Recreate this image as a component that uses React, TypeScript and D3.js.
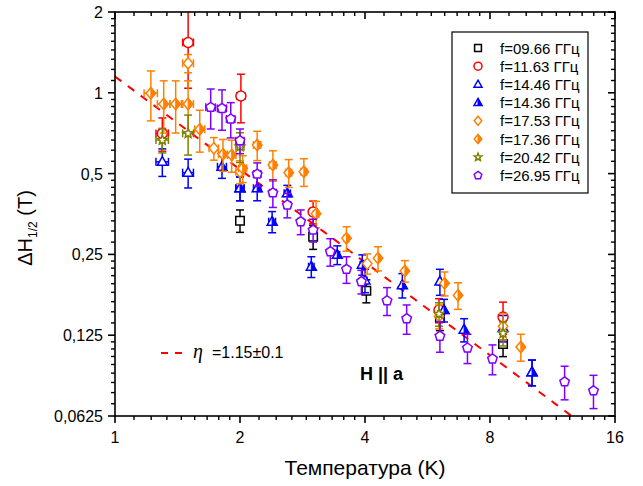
import React from 'react';
import * as d3 from 'd3';

// Linewidth ΔH1/2 versus temperature, log2–log2 axes
const W = 643;
const H = 486;
const plotL = 115, plotR = 615, plotT = 12, plotB = 416;

const xTicks = [1, 2, 4, 8, 16];
const xTickLabels = ['1', '2', '4', '8', '16'];
const yTicks = [0.0625, 0.125, 0.25, 0.5, 1, 2];
const yTickLabels = ['0,0625', '0,125', '0,25', '0,5', '1', '2'];

// [T (K), ΔH (T), error (T)]
type Pt = [number, number, number];

const f0966: Pt[] = [
  [2.0, 0.334, 0.032], [3.0, 0.291, 0.03], [4.03, 0.183, 0.018],
  [6.06, 0.145, 0.015], [8.6, 0.116, 0.012],
];
const f1163: Pt[] = [
  [1.3, 0.706, 0.1], [1.5, 1.54, 0.5], [2.01, 0.973, 0.2],
  [3.0, 0.36, 0.035], [6.03, 0.155, 0.016], [8.6, 0.146, 0.02],
];
const f1446: Pt[] = [
  [1.3, 0.553, 0.065], [1.5, 0.504, 0.062], [2.0, 0.441, 0.045],
  [4.0, 0.2, 0.02], [6.06, 0.198, 0.022], [8.6, 0.133, 0.015], [10.1, 0.091, 0.01],
];
const f1436: Pt[] = [
  [1.81, 0.53, 0.05], [2.0, 0.441, 0.045], [2.2, 0.441, 0.045], [2.39, 0.331, 0.03],
  [2.6, 0.422, 0.03], [2.97, 0.225, 0.02], [3.43, 0.249, 0.02], [3.94, 0.229, 0.02],
  [4.92, 0.192, 0.02], [6.2, 0.155, 0.015], [6.93, 0.131, 0.013], [10.1, 0.091, 0.01],
];
const f1753: Pt[] = [
  [1.5, 1.288, 0.1], [1.73, 0.621, 0.06], [2.0, 0.508, 0.05],
  [4.05, 0.231, 0.02], [6.03, 0.147, 0.015], [8.6, 0.135, 0.015],
];
const f1736: Pt[] = [
  [1.22, 0.996, 0.21], [1.31, 0.908, 0.2], [1.4, 0.908, 0.2], [1.5, 0.908, 0.2],
  [1.6, 0.731, 0.13], [1.82, 0.59, 0.08], [1.91, 0.586, 0.08], [2.03, 0.523, 0.06],
  [2.2, 0.639, 0.08], [2.4, 0.538, 0.07], [2.62, 0.504, 0.06], [2.85, 0.508, 0.06],
  [3.05, 0.354, 0.04], [3.61, 0.287, 0.03], [4.3, 0.242, 0.025], [4.99, 0.217, 0.02],
  [6.22, 0.195, 0.02], [6.7, 0.176, 0.02], [9.49, 0.113, 0.013],
];
const f2042: Pt[] = [
  [1.3, 0.667, 0.07], [1.5, 0.706, 0.12], [2.0, 0.63, 0.08],
  [6.03, 0.15, 0.015], [8.6, 0.127, 0.013],
];
const f2695: Pt[] = [
  [1.7, 0.883, 0.15], [1.81, 0.875, 0.15], [1.9, 0.799, 0.12], [2.0, 0.663, 0.07],
  [2.2, 0.498, 0.05], [2.4, 0.424, 0.05], [2.6, 0.382, 0.04], [2.8, 0.331, 0.035],
  [3.0, 0.308, 0.03], [3.3, 0.256, 0.03], [3.61, 0.22, 0.025], [3.92, 0.198, 0.02],
  [4.52, 0.168, 0.02], [5.04, 0.144, 0.018], [6.06, 0.124, 0.016], [7.06, 0.112, 0.014],
  [8.11, 0.102, 0.013], [12.1, 0.0838, 0.012], [14.2, 0.0776, 0.011],
];

const tempErr = 0.045; // K, horizontal error

// power-law guide: ΔH = A·T^(−η)
const fitA = 1.15;
const fitEta = 1.15;

type Shape = 'square' | 'circle' | 'triangle' | 'diamond' | 'star' | 'pentagon';
interface Series { label: string; color: string; shape: Shape; half: boolean; data: Pt[] }

const series: Series[] = [
  { label: 'f=09.66 ГГц', color: '#000000', shape: 'square', half: false, data: f0966 },
  { label: 'f=11.63 ГГц', color: '#ff0000', shape: 'circle', half: false, data: f1163 },
  { label: 'f=14.46 ГГц', color: '#0000ff', shape: 'triangle', half: false, data: f1446 },
  { label: 'f=14.36 ГГц', color: '#0000ff', shape: 'triangle', half: true, data: f1436 },
  { label: 'f=17.53 ГГц', color: '#ff8000', shape: 'diamond', half: false, data: f1753 },
  { label: 'f=17.36 ГГц', color: '#ff8000', shape: 'diamond', half: true, data: f1736 },
  { label: 'f=20.42 ГГц', color: '#808000', shape: 'star', half: false, data: f2042 },
  { label: 'f=26.95 ГГц', color: '#8000ff', shape: 'pentagon', half: false, data: f2695 },
];

const x = d3.scaleLog().base(2).domain([1, 16]).range([plotL, plotR]);
const y = d3.scaleLog().base(2).domain([0.0625, 2]).range([plotB, plotT]);

const minorX: number[] = [];
for (let i = 0; i < xTicks.length - 1; i++)
  for (let k = 1; k <= 8; k++) minorX.push(xTicks[i] * (1 + k / 9));
const minorY: number[] = [];
for (let i = 0; i < yTicks.length - 1; i++)
  for (let k = 1; k <= 8; k++) minorY.push(yTicks[i] * (1 + k / 9));

const poly = (pts: [number, number][]) => 'M' + pts.map(p => p.join(',')).join('L') + 'Z';

function shapePath(shape: Shape, r: number): string {
  switch (shape) {
    case 'square': {
      const s = r * 0.85;
      return poly([[-s, -s], [s, -s], [s, s], [-s, s]]);
    }
    case 'circle':
      return `M${r},0A${r},${r} 0 1,1 ${-r},0A${r},${r} 0 1,1 ${r},0Z`;
    case 'triangle':
      return poly([[0, -r * 1.05], [r, r * 0.7], [-r, r * 0.7]]);
    case 'diamond':
      return poly([[0, -r * 1.15], [r * 0.95, 0], [0, r * 1.15], [-r * 0.95, 0]]);
    case 'star': {
      const pts: [number, number][] = [];
      for (let i = 0; i < 10; i++) {
        const a = -Math.PI / 2 + (i * Math.PI) / 5;
        const rr = i % 2 === 0 ? r : r * 0.45;
        pts.push([rr * Math.cos(a), rr * Math.sin(a)]);
      }
      return poly(pts);
    }
    case 'pentagon': {
      const pts: [number, number][] = [];
      for (let i = 0; i < 5; i++) {
        const a = -Math.PI / 2 + (i * 2 * Math.PI) / 5;
        pts.push([r * Math.cos(a), r * Math.sin(a)]);
      }
      return poly(pts);
    }
  }
}

function halfPath(shape: Shape, r: number): string {
  if (shape === 'triangle') return poly([[0, -r * 1.05], [r, r * 0.7], [0, r * 0.7]]);
  return poly([[0, -r * 1.15], [r * 0.95, 0], [0, r * 1.15]]);
}

const Marker: React.FC<{ s: Series; cx: number; cy: number; r: number }> = ({ s, cx, cy, r }) => (
  <g transform={`translate(${cx},${cy})`}>
    <path d={shapePath(s.shape, r)} fill="#ffffff" stroke={s.color} strokeWidth={1.5} />
    {s.half && <path d={halfPath(s.shape, r)} fill={s.color} stroke={s.color} strokeWidth={1} />}
  </g>
);

const font = "'Liberation Sans', Arial, sans-serif";

export default function App() {
  const cap = 4;
  const fitPts = d3.range(0, 121).map(i => {
    const t = Math.pow(2, (i / 120) * 4);
    return [x(t), y(fitA * Math.pow(t, -fitEta))] as [number, number];
  });
  const line = d3.line()(fitPts) || '';

  return (
    <svg width={W} height={H} style={{ position: 'absolute', left: 0, top: 0, background: '#fff' }}
      fontFamily={font}>
      <defs>
        <clipPath id="plotArea">
          <rect x={plotL} y={plotT} width={plotR - plotL} height={plotB - plotT} />
        </clipPath>
      </defs>
      <rect x={0} y={0} width={W} height={H} fill="#fff" />

      {/* data */}
      <g clipPath="url(#plotArea)">
        <path d={line} fill="none" stroke="#ff0000" strokeWidth={2} strokeDasharray="8,8" />
        {series.map((s, si) => (
          <g key={si}>
            {s.data.map(([t, v, e], i) => {
              const cx = x(t), cy = y(v);
              const yHi = y(v + e), yLo = y(Math.max(v - e, 0.01));
              const xL = x(Math.max(t - tempErr, 0.5)), xR = x(t + tempErr);
              return (
                <g key={i} stroke={s.color} strokeWidth={1.5} fill="none">
                  <line x1={cx} x2={cx} y1={yHi} y2={yLo} />
                  <line x1={cx - cap} x2={cx + cap} y1={yHi} y2={yHi} />
                  <line x1={cx - cap} x2={cx + cap} y1={yLo} y2={yLo} />
                  <line x1={xL} x2={xR} y1={cy} y2={cy} />
                  <line x1={xL} x2={xL} y1={cy - cap} y2={cy + cap} />
                  <line x1={xR} x2={xR} y1={cy - cap} y2={cy + cap} />
                </g>
              );
            })}
            {s.data.map(([t, v], i) => (
              <Marker key={'m' + i} s={s} cx={x(t)} cy={y(v)} r={5} />
            ))}
          </g>
        ))}
      </g>

      {/* axes frame */}
      <rect x={plotL} y={plotT} width={plotR - plotL} height={plotB - plotT} fill="none" stroke="#000" strokeWidth={1.6} />

      {/* bottom (outward) and top (inward) ticks */}
      {xTicks.map((t, i) => (
        <g key={'xt' + i} stroke="#000" strokeWidth={1.6}>
          <line x1={x(t)} x2={x(t)} y1={plotB} y2={plotB + 7} />
          <line x1={x(t)} x2={x(t)} y1={plotT} y2={plotT + 7} />
        </g>
      ))}
      {minorX.map((t, i) => (
        <g key={'xm' + i} stroke="#000" strokeWidth={1.4}>
          <line x1={x(t)} x2={x(t)} y1={plotB} y2={plotB + 4} />
          <line x1={x(t)} x2={x(t)} y1={plotT} y2={plotT + 4} />
        </g>
      ))}
      {/* left (outward) and right (inward) ticks */}
      {yTicks.map((v, i) => (
        <g key={'yt' + i} stroke="#000" strokeWidth={1.6}>
          <line x1={plotL - 7} x2={plotL} y1={y(v)} y2={y(v)} />
          <line x1={plotR - 7} x2={plotR} y1={y(v)} y2={y(v)} />
        </g>
      ))}
      {minorY.map((v, i) => (
        <g key={'ym' + i} stroke="#000" strokeWidth={1.4}>
          <line x1={plotL - 4} x2={plotL} y1={y(v)} y2={y(v)} />
          <line x1={plotR - 4} x2={plotR} y1={y(v)} y2={y(v)} />
        </g>
      ))}

      {xTicks.map((t, i) => (
        <text key={'xl' + i} x={x(t)} y={443} fontSize={16} textAnchor="middle" fill="#000">{xTickLabels[i]}</text>
      ))}
      {yTicks.map((v, i) => (
        <text key={'yl' + i} x={103} y={y(v) + 6} fontSize={16} textAnchor="end" fill="#000">{yTickLabels[i]}</text>
      ))}

      <text x={365} y={475} fontSize={21} textAnchor="middle" fill="#000">Температура (K)</text>
      <text transform="translate(32,228) rotate(-90)" fontSize={20} textAnchor="middle" fill="#000">
        ΔH<tspan fontSize={12} dy={5}>1/2</tspan><tspan dy={-5}> (T)</tspan>
      </text>

      {/* legend */}
      <rect x={452} y={32} width={136} height={161} fill="#fff" stroke="#000" strokeWidth={1.2} />
      {series.map((s, i) => {
        const ly = 48 + i * 18.2;
        return (
          <g key={'lg' + i}>
            <Marker s={s} cx={478} cy={ly} r={4} />
            <text x={500} y={ly + 5.5} fontSize={15} fill="#000">{s.label}</text>
          </g>
        );
      })}

      {/* fit annotation */}
      <line x1={161} x2={183} y1={353} y2={353} stroke="#ff0000" strokeWidth={2} strokeDasharray="7,7" />
      <text x={193} y={358} fontSize={20} fill="#000" fontStyle="italic" fontFamily="'Liberation Serif', serif">η</text>
      <text x={212} y={358} fontSize={16} fill="#000">=1.15±0.1</text>
      <text x={360} y={380} fontSize={18} fontWeight="bold" fill="#000">H || a</text>
    </svg>
  );
}
